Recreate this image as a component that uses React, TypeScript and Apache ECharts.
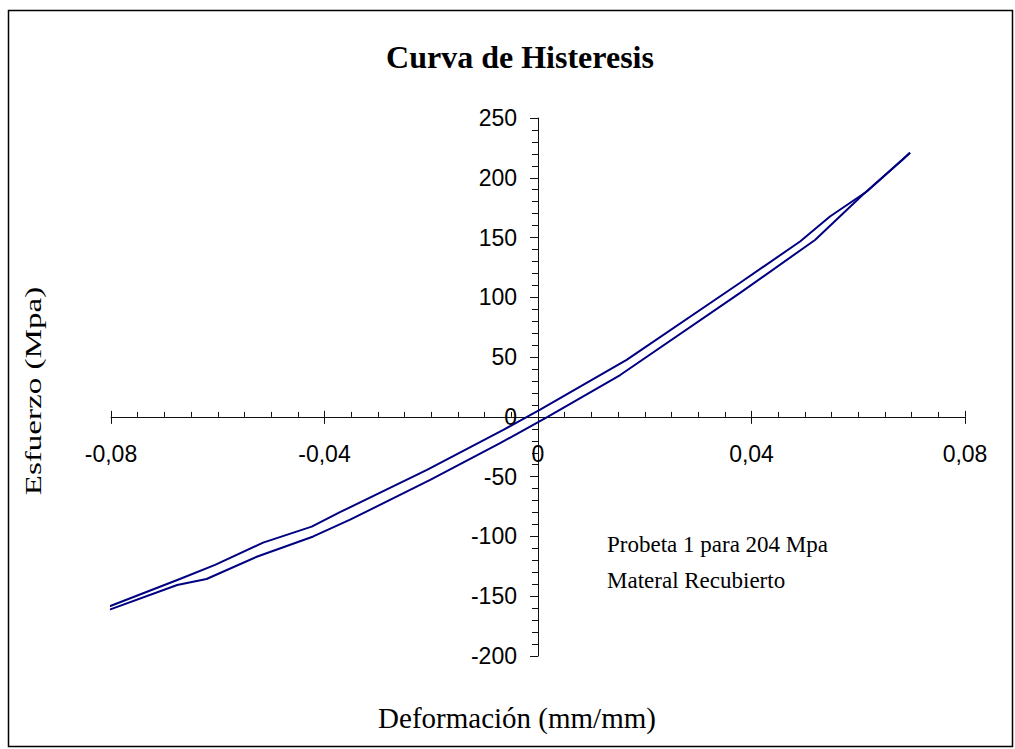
import React, { useEffect, useRef } from "react";
import * as echarts from "echarts";

const loadingStrain = [-0.0804, -0.0676, -0.0621, -0.0527, -0.0421, -0.0352, -0.0202, -0.0071, 0.0018, 0.0154, 0.0378, 0.0519, 0.0609, 0.0683, 0.0697];
const loadingStress = [-161.5, -140.6, -135.6, -117, -100, -86, -52.7, -22, 0, 35, 103.5, 148, 186, 215, 221];

const unloadingStrain = [0.0697, 0.0616, 0.0547, 0.0491, 0.0378, 0.0166, 0.0004, -0.0065, -0.0208, -0.0371, -0.0424, -0.0515, -0.0605, -0.0671, -0.0804];
const unloadingStress = [221, 188.5, 167.6, 146.7, 112, 47.7, 6, -10.9, -44.4, -79.7, -91.8, -105.2, -123.8, -135.6, -158.7];

const titleText = "Curva de Histeresis";
const xName = "Deformación (mm/mm)";
const yName = "Esfuerzo (Mpa)";
const noteLines = ["Probeta 1 para 204 Mpa", "Materal Recubierto"];

const SANS = "'Liberation Sans', Arial, sans-serif";
const SERIF = "'Liberation Serif', 'Times New Roman', serif";

const fmtX = (v: number) => (Math.abs(v) < 1e-9 ? "0" : v.toFixed(2).replace(".", ","));

// layout (pixels)
const W = 1015;
const H = 749;
const G_LEFT = 111;
const G_RIGHT = 50;
const G_TOP = 118;
const G_BOTTOM = 93;
const X_MIN = -0.08;
const X_MAX = 0.08;
const Y_MIN = -200;
const Y_MAX = 250;

export default function App() {
  const ref = useRef<HTMLDivElement>(null);
  useEffect(() => {
    if (!ref.current) return;
    const chart = echarts.init(ref.current, undefined, { renderer: "svg" });
    const loadData = loadingStrain.map((x, i) => [x, loadingStress[i]]);
    const unloadData = unloadingStrain.map((x, i) => [x, unloadingStress[i]]);
    const gridPos = { left: G_LEFT, right: G_RIGHT, top: G_TOP, bottom: G_BOTTOM };
    const gw = W - G_LEFT - G_RIGHT;
    const gh = H - G_TOP - G_BOTTOM;
    const zeroY = G_TOP + (Y_MAX / (Y_MAX - Y_MIN)) * gh;
    const xOffset = zeroY - (G_TOP + gh);
    const zeroX = G_LEFT + ((0 - X_MIN) / (X_MAX - X_MIN)) * gw;
    const yOffset = -(zeroX - G_LEFT);
    chart.setOption({
      animation: false,
      backgroundColor: "#fff",
      grid: [gridPos, { ...gridPos }],
      xAxis: [
        {
          type: "value",
          gridIndex: 0,
          position: "bottom",
          offset: xOffset,
          min: X_MIN,
          max: X_MAX,
          interval: 0.04,
          axisLine: { show: true, onZero: false, lineStyle: { color: "#111", width: 1 } },
          axisTick: { show: true, inside: true, length: 6, lineStyle: { color: "#111" } },
          minorTick: { show: true, splitNumber: 8, length: 5, lineStyle: { color: "#111" } },
          axisLabel: { formatter: fmtX, fontFamily: SANS, fontSize: 23, color: "#000", margin: 26 },
          splitLine: { show: false },
          minorSplitLine: { show: false },
        },
        {
          type: "value",
          gridIndex: 1,
          position: "bottom",
          offset: xOffset,
          min: X_MIN,
          max: X_MAX,
          interval: 0.04,
          axisLine: { show: false, onZero: false },
          axisTick: { show: true, inside: false, length: 7, lineStyle: { color: "#111" } },
          axisLabel: { show: false },
          splitLine: { show: false },
        },
      ],
      yAxis: [
        {
          type: "value",
          gridIndex: 0,
          position: "left",
          offset: yOffset,
          min: Y_MIN,
          max: Y_MAX,
          interval: 50,
          axisLine: { show: true, onZero: false, lineStyle: { color: "#111", width: 1 } },
          axisTick: { show: true, inside: false, length: 8, lineStyle: { color: "#111" } },
          minorTick: { show: true, splitNumber: 5, length: 6, lineStyle: { color: "#111" } },
          axisLabel: { fontFamily: SANS, fontSize: 23, color: "#000", margin: 21 },
          splitLine: { show: false },
          minorSplitLine: { show: false },
        },
        {
          type: "value",
          gridIndex: 1,
          min: Y_MIN,
          max: Y_MAX,
          interval: 50,
          axisLine: { show: false, onZero: false },
          axisTick: { show: false },
          axisLabel: { show: false },
          splitLine: { show: false },
        },
      ],
      series: [
        {
          type: "line",
          xAxisIndex: 0,
          yAxisIndex: 0,
          data: loadData,
          showSymbol: false,
          symbol: "none",
          lineStyle: { color: "#000080", width: 2 },
        },
        {
          type: "line",
          xAxisIndex: 0,
          yAxisIndex: 0,
          data: unloadData,
          showSymbol: false,
          symbol: "none",
          lineStyle: { color: "#000080", width: 2 },
        },
      ],
      graphic: [
        {
          type: "rect",
          shape: { x: 8.5, y: 10.5, width: 1004, height: 736 },
          style: { fill: "none", stroke: "#000", lineWidth: 1.5 },
          silent: true,
        },
        {
          type: "text",
          x: 520,
          y: 57,
          style: { text: titleText, font: `bold 32px ${SERIF}`, fill: "#000", align: "center", verticalAlign: "middle" },
        },
        {
          type: "text",
          x: 517,
          y: 718,
          style: { text: xName, font: `29px ${SERIF}`, fill: "#000", align: "center", verticalAlign: "middle" },
        },
        {
          type: "text",
          x: 33,
          y: 391,
          rotation: Math.PI / 2,
          scaleX: 1.38,
          style: { text: yName, font: `24px ${SERIF}`, fill: "#000", align: "center", verticalAlign: "middle" },
        },
        {
          type: "text",
          x: 607,
          y: 544,
          style: { text: noteLines[0], font: `23px ${SERIF}`, fill: "#000", align: "left", verticalAlign: "middle" },
        },
        {
          type: "text",
          x: 607,
          y: 580,
          style: { text: noteLines[1], font: `23px ${SERIF}`, fill: "#000", align: "left", verticalAlign: "middle" },
        },
      ],
    });
    return () => chart.dispose();
  }, []);
  return (
    <div
      ref={ref}
      style={{ position: "fixed", left: 0, top: 0, width: W, height: H }}
    />
  );
}
